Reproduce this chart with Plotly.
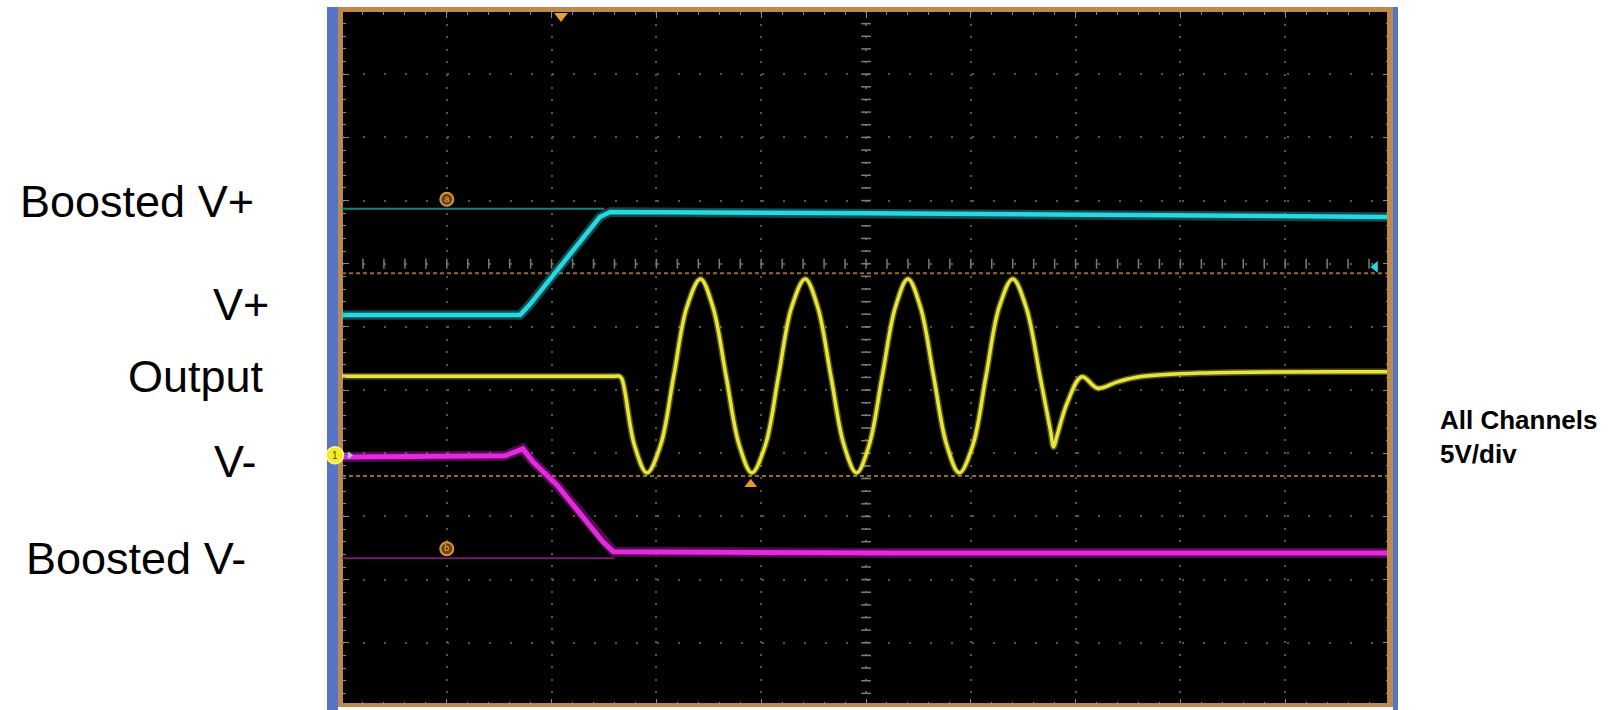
import plotly.graph_objects as go

# Page and graticule geometry (pixels)
W, H = 1608, 710
PLOT_L, PLOT_R, PLOT_T, PLOT_B = 342, 1390, 11, 706

# Graticule: horizontal and vertical division counts, 5 minor steps each
X_DIVS = 10
Y_DIVS = 11
MINOR = 0.2

# Channel 2 (cyan): V+ rail stepping up to Boosted V+  (time in div, level in div)
cyan_t = [0.0, 1.70, 1.79, 2.46, 2.56, 5.04, 10.0]
cyan_v = [6.19, 6.19, 6.35, 7.74, 7.82, 7.80, 7.74]

# Channel 3 (magenta): V- rail stepping down to Boosted V-
mag_t = [0.0, 1.555, 1.727, 1.82, 2.05, 2.30, 2.49, 2.59, 5.32, 10.0]
mag_v = [3.94, 3.96, 4.07, 3.87, 3.50, 3.00, 2.60, 2.44, 2.42, 2.42]

# Channel 1 (yellow): amplifier output burst
out_t = [0.0, 2.50, 2.60, 2.645, 2.67, 2.79, 2.91, 3.04, 3.165, 3.29, 3.42, 3.54,
         3.665, 3.79, 3.91, 4.04, 4.165, 4.29, 4.42, 4.54, 4.665, 4.79, 4.91,
         5.03, 5.155, 5.28, 5.40, 5.52, 5.645, 5.77, 5.89, 6.02, 6.145, 6.27,
         6.40, 6.53, 6.66, 6.76, 6.79, 6.82, 6.92, 7.06, 7.21, 7.40, 7.61, 8.19, 10.0]
out_v = [5.22, 5.22, 5.22, 5.22, 5.18, 4.13, 3.69, 4.13, 5.22, 6.31, 6.76, 6.31,
         5.22, 4.13, 3.69, 4.13, 5.22, 6.31, 6.76, 6.31, 5.22, 4.13, 3.69,
         4.13, 5.22, 6.31, 6.76, 6.31, 5.22, 4.13, 3.69, 4.13, 5.22, 6.31,
         6.76, 6.30, 5.22, 4.36, 4.10, 4.26, 4.80, 5.21, 5.03, 5.13, 5.21, 5.27, 5.29]

# Channel reference levels and cursor levels
cyan_ref_t, cyan_ref_v = [0.0, 2.5], [7.87, 7.87]
mag_ref_t, mag_ref_v = [0.0, 2.6], [2.34, 2.34]
cursor_levels = [6.85, 3.64]

# Indicator positions (div)
trigger_pos = (2.09, 10.92)
cursor_mark = (3.90, 3.51)
ref_a = (1.00, 8.02)
ref_b = (1.00, 2.49)
ch1_ground = (-0.067, 3.97)
ch2_arrow = (9.86, 6.95)

labels = [("Boosted V+", 137, 202), ("V+", 241, 304), ("Output", 196, 376),
          ("V-", 235, 461), ("Boosted V-", 136, 558)]

CYAN = "rgb(40,215,225)"
MAGENTA = "rgb(230,40,225)"
YELLOW = "rgb(232,228,60)"
TAN = "rgb(188,138,78)"
BLUE = "rgb(88,116,196)"
GRID = "rgb(85,85,85)"
TICK = "rgb(140,140,140)"

PW = PLOT_R - PLOT_L
PH = PLOT_B - PLOT_T


def px_x(p):
    return (p - PLOT_L) / PW


def px_y(p):
    return (PLOT_B - p) / PH


fig = go.Figure()

# Reference levels beneath the traces
for lv in cursor_levels:
    fig.add_trace(go.Scatter(x=[0, X_DIVS], y=[lv, lv], mode="lines",
                             line=dict(color="rgb(150,105,50)", width=2, dash="4px,3px"),
                             hoverinfo="skip"))
fig.add_trace(go.Scatter(x=cyan_ref_t, y=cyan_ref_v, mode="lines",
                         line=dict(color="rgb(20,130,130)", width=2), hoverinfo="skip"))
fig.add_trace(go.Scatter(x=mag_ref_t, y=mag_ref_v, mode="lines",
                         line=dict(color="rgb(115,30,115)", width=2), hoverinfo="skip"))

# Centre-axis minor tick marks
cx = [i * MINOR for i in range(int(X_DIVS / MINOR) + 1)]
cy = [i * MINOR for i in range(int(Y_DIVS / MINOR) + 1)]
fig.add_trace(go.Scatter(x=cx, y=[7] * len(cx), mode="markers",
                         marker=dict(symbol="line-ns", size=7, line=dict(width=1.5, color="rgb(125,125,125)")),
                         hoverinfo="skip"))
fig.add_trace(go.Scatter(x=[5] * len(cy), y=cy, mode="markers",
                         marker=dict(symbol="line-ew", size=7, line=dict(width=1.5, color="rgb(125,125,125)")),
                         hoverinfo="skip"))

# Waveforms: a soft halo under a bright core
for t, v, col, core, halo, shape in [(cyan_t, cyan_v, CYAN, 4.5, 5, "linear"),
                                     (out_t, out_v, YELLOW, 3.5, 3, "spline"),
                                     (mag_t, mag_v, MAGENTA, 5, 5, "linear")]:
    fig.add_trace(go.Scatter(x=t, y=v, mode="lines", opacity=0.35,
                             line=dict(color=col, width=core + halo, shape=shape), hoverinfo="skip"))
    fig.add_trace(go.Scatter(x=t, y=v, mode="lines",
                             line=dict(color=col, width=core, shape=shape), hoverinfo="skip"))

# Indicators
fig.add_trace(go.Scatter(x=[trigger_pos[0]], y=[trigger_pos[1]], mode="markers",
                         marker=dict(symbol="triangle-down", size=12, color="rgb(235,160,40)"),
                         cliponaxis=False, hoverinfo="skip"))
fig.add_trace(go.Scatter(x=[cursor_mark[0]], y=[cursor_mark[1]], mode="markers",
                         marker=dict(symbol="triangle-up", size=11, color="rgb(235,150,40)"),
                         cliponaxis=False, hoverinfo="skip"))
fig.add_trace(go.Scatter(x=[ref_a[0], ref_b[0]], y=[ref_a[1], ref_b[1]], mode="markers+text",
                         text=["a", "b"], textposition="middle center",
                         textfont=dict(size=9, color="rgb(235,175,80)", family="Liberation Sans"),
                         marker=dict(symbol="circle", size=13, color="rgb(110,65,20)",
                                     line=dict(width=2, color="rgb(215,150,55)")),
                         cliponaxis=False, hoverinfo="skip"))
fig.add_trace(go.Scatter(x=[ch1_ground[0] + 0.14], y=[ch1_ground[1]], mode="markers",
                         marker=dict(symbol="triangle-right", size=7, color="rgb(160,200,230)"),
                         cliponaxis=False, hoverinfo="skip"))
fig.add_trace(go.Scatter(x=[ch2_arrow[0]], y=[ch2_arrow[1]], mode="markers",
                         marker=dict(symbol="triangle-left", size=10, color=CYAN),
                         cliponaxis=False, hoverinfo="skip"))


def strip(x0, x1, y0, y1, color, layer):
    return dict(type="rect", xref="paper", yref="paper", x0=px_x(x0), x1=px_x(x1),
                y0=px_y(y1), y1=px_y(y0), fillcolor=color, line=dict(width=0), layer=layer)


# Screen bezel; the left side sits beneath the channel-1 ground marker
shapes = [
    strip(327, 338, 7, 710, BLUE, "below"),
    strip(338, 343, 7, 707, TAN, "below"),
    strip(1393, 1398, 7, 710, BLUE, "above"),
    strip(1387, 1393, 7, 707, TAN, "above"),
    strip(343, 1393, 7, 12, TAN, "above"),
    strip(343, 1393, 703, 707, TAN, "above"),
]

# Channel-1 ground marker sits on the bezel edge, outside the time range
g_x = ch1_ground[0] / X_DIVS
g_y = ch1_ground[1] / Y_DIVS
g_r = 8.5
shapes.append(dict(type="circle", xref="paper", yref="paper",
                   x0=g_x - g_r / PW, x1=g_x + g_r / PW, y0=g_y - g_r / PH, y1=g_y + g_r / PH,
                   fillcolor="rgb(245,235,40)", line=dict(width=1.5, color="rgb(255,250,150)"),
                   layer="above"))

annotations = [dict(text="1", xref="paper", yref="paper", x=g_x, y=g_y,
                    xanchor="center", yanchor="middle", showarrow=False,
                    font=dict(family="Liberation Sans", size=10, color="rgb(90,80,0)"))]
for txt, cxp, cyp in labels:
    annotations.append(dict(text=txt, xref="paper", yref="paper", x=px_x(cxp), y=px_y(cyp),
                            xanchor="center", yanchor="middle", showarrow=False,
                            font=dict(family="Liberation Sans, Arial, sans-serif", size=45, color="black")))
annotations.append(dict(text="<b>All Channels<br>5V/div</b>", xref="paper", yref="paper",
                        x=px_x(1438), y=px_y(437), xanchor="left", yanchor="middle", align="left",
                        showarrow=False,
                        font=dict(family="Liberation Sans, Arial, sans-serif", size=26, color="black")))

axis_common = dict(showticklabels=False, zeroline=False, showline=False, fixedrange=True,
                   ticks="inside", ticklen=7, tickwidth=1, tickcolor=TICK, mirror="allticks",
                   showgrid=True, gridcolor=GRID, gridwidth=2)

fig.update_layout(
    width=W, height=H,
    margin=dict(l=PLOT_L, r=W - PLOT_R, t=PLOT_T, b=H - PLOT_B, pad=0),
    paper_bgcolor="white", plot_bgcolor="black",
    showlegend=False,
    xaxis=dict(range=[0, X_DIVS], tick0=0, dtick=1, griddash="2px,10.6px",
               minor=dict(dtick=MINOR, tick0=0, ticks="inside", ticklen=4, tickcolor=TICK, showgrid=False),
               **axis_common),
    yaxis=dict(range=[0, Y_DIVS], tick0=0, dtick=1, griddash="2px,19px",
               minor=dict(dtick=MINOR, tick0=0, ticks="inside", ticklen=4, tickcolor=TICK, showgrid=False),
               **axis_common),
    shapes=shapes,
    annotations=annotations,
)

fig.write_html("out.html", config={"displayModeBar": False})
